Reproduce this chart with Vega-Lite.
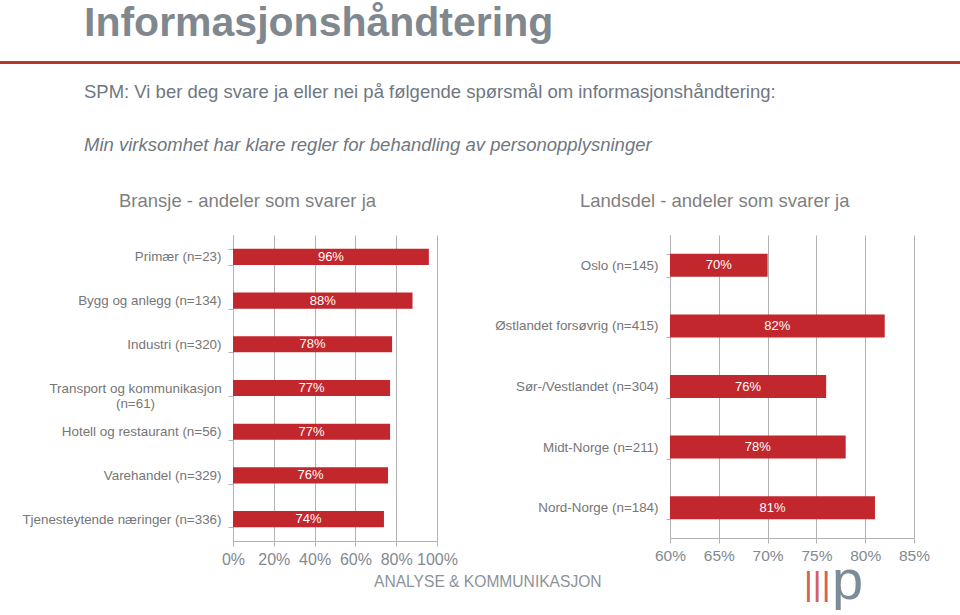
{
  "$schema": "https://vega.github.io/schema/vega-lite/v6.json",
  "background": "white",
  "padding": {"left": 0, "right": 0, "top": 1, "bottom": 0},
  "config": {
    "font": "Liberation Sans",
    "view": {"stroke": null},
    "title": {"fontWeight": "normal"}
  },
  "datasets": {
    "bransje": [
      {"kategori": "Primær (n=23)", "andel": 0.96},
      {"kategori": "Bygg og anlegg (n=134)", "andel": 0.88},
      {"kategori": "Industri (n=320)", "andel": 0.78},
      {"kategori": "Transport og kommunikasjon (n=61)", "andel": 0.77},
      {"kategori": "Hotell og restaurant (n=56)", "andel": 0.77},
      {"kategori": "Varehandel (n=329)", "andel": 0.76},
      {"kategori": "Tjenesteytende næringer (n=336)", "andel": 0.74}
    ],
    "landsdel": [
      {"kategori": "Oslo (n=145)", "andel": 0.70},
      {"kategori": "Østlandet forsøvrig (n=415)", "andel": 0.82},
      {"kategori": "Sør-/Vestlandet (n=304)", "andel": 0.76},
      {"kategori": "Midt-Norge (n=211)", "andel": 0.78},
      {"kategori": "Nord-Norge (n=184)", "andel": 0.81}
    ],
    "tom": [{"t": ""}]
  },
  "spacing": 14,
  "vconcat": [
    {
      "width": 960,
      "height": 1,
      "view": {"stroke": "#b8372d", "strokeWidth": 2, "fill": "#b8372d"},
      "title": {
        "text": "Informasjonshåndtering",
        "anchor": "start",
        "frame": "group",
        "dx": 83,
        "offset": 12,
        "fontSize": 41,
        "fontWeight": "bold",
        "color": "#7f888f"
      },
      "data": {"name": "tom"},
      "mark": {"type": "text", "opacity": 0},
      "encoding": {"text": {"field": "t", "type": "nominal"}}
    },
    {
      "title": {
        "text": "|||",
        "orient": "bottom",
        "anchor": "start",
        "frame": "bounds",
        "dx": 803,
        "offset": -42,
        "fontSize": 34,
        "color": "#d4605a"
      },
      "vconcat": [
        {
          "title": {
            "text": "p",
            "orient": "bottom",
            "anchor": "start",
            "frame": "bounds",
            "dx": 831,
            "offset": -36,
            "fontSize": 56,
            "color": "#7d8c96"
          },
          "vconcat": [
            {
              "title": {
                "text": "ANALYSE & KOMMUNIKASJON",
                "orient": "bottom",
                "anchor": "start",
                "frame": "bounds",
                "dx": 373,
                "offset": 8,
                "fontSize": 15.6,
                "color": "#8d9399"
              },
              "vconcat": [
                {
                  "title": {
                    "text": "SPM: Vi ber deg svare ja eller nei på følgende spørsmål om informasjonshåndtering:",
                    "subtitle": "Min virksomhet har klare regler for behandling av personopplysninger",
                    "anchor": "start",
                    "frame": "bounds",
                    "dx": 83,
                    "offset": 37,
                    "fontSize": 18.5,
                    "color": "#6f7780",
                    "subtitleFontSize": 18.5,
                    "subtitleFontStyle": "italic",
                    "subtitleColor": "#6f7780",
                    "subtitlePadding": 34.5
                  },
                  "spacing": 0,
                  "hconcat": [
                    {
                      "width": 1,
                      "height": 1,
                      "data": {"name": "tom"},
                      "mark": {"type": "text", "opacity": 0},
                      "encoding": {"text": {"field": "t", "type": "nominal"}}
                    },
                    {
                      "spacing": 32,
                      "hconcat": [
                        {
                          "width": 204,
                          "height": 306,
                          "title": {
                            "text": "Bransje - andeler som svarer ja",
                            "anchor": "start",
                            "frame": "group",
                            "dx": -114,
                            "offset": 18,
                            "fontSize": 18.5,
                            "color": "#7f7f7f"
                          },
                          "data": {"name": "bransje"},
                          "encoding": {
                            "y": {
                              "field": "kategori",
                              "type": "nominal",
                              "sort": null,
                              "scale": {"paddingInner": 0.63, "paddingOuter": 0.315},
                              "axis": {
                                "title": null,
                                "tickBand": "extent",
                                "domainColor": "#b3b3b3",
                                "tickColor": "#b3b3b3",
                                "tickSize": 5,
                                "labelFontSize": 13.4,
                                "labelColor": "#767676",
                                "labelAlign": {"condition": {"test": "datum.value == 'Transport og kommunikasjon (n=61)'", "value": "center"}, "value": "right"},
                                "labelPadding": {"condition": {"test": "datum.value == 'Transport og kommunikasjon (n=61)'", "value": 93}, "value": 7},
                                "labelLimit": 300,
                                "minExtent": 231,
                                "labelLineHeight": 15,
                                "labelExpr": "datum.value == 'Transport og kommunikasjon (n=61)' ? ['Transport og kommunikasjon', '(n=61)'] : datum.label"
                              }
                            }
                          },
                          "layer": [
                            {
                              "mark": {"type": "bar", "color": "#c1272d"},
                              "encoding": {
                                "x": {
                                  "field": "andel",
                                  "type": "quantitative",
                                  "scale": {"domain": [0, 1], "nice": false, "zero": true},
                                  "axis": {
                                    "title": null,
                                    "values": [0, 0.2, 0.4, 0.6, 0.8, 1],
                                    "format": ".0%",
                                    "grid": true,
                                    "gridColor": "#b3b3b3",
                                    "domainColor": "#b3b3b3",
                                    "tickColor": "#b3b3b3",
                                    "tickSize": 5,
                                    "labelFontSize": 16,
                                    "labelColor": "#7f8a91",
                                    "labelPadding": 5,
                                    "labelOverlap": false,
                                    "labelFlush": false
                                  }
                                }
                              }
                            },
                            {
                              "mark": {"type": "text", "color": "white", "fontSize": 13},
                              "encoding": {
                                "x": {
                                  "field": "andel",
                                  "type": "quantitative",
                                  "scale": {"domain": [0, 2], "nice": false, "zero": false},
                                  "axis": null
                                },
                                "text": {"field": "andel", "type": "quantitative", "format": ".0%"}
                              }
                            }
                          ],
                          "resolve": {"scale": {"x": "independent"}}
                        },
                        {
                          "width": 244,
                          "height": 303,
                          "title": {
                            "text": "Landsdel - andeler som svarer ja",
                            "anchor": "start",
                            "frame": "group",
                            "dx": -90,
                            "offset": 18,
                            "fontSize": 18.5,
                            "color": "#7f7f7f"
                          },
                          "data": {"name": "landsdel"},
                          "encoding": {
                            "y": {
                              "field": "kategori",
                              "type": "nominal",
                              "sort": null,
                              "scale": {"paddingInner": 0.62, "paddingOuter": 0.31},
                              "axis": {
                                "title": null,
                                "tickBand": "extent",
                                "domainColor": "#b3b3b3",
                                "tickColor": "#b3b3b3",
                                "tickSize": 4,
                                "labelFontSize": 13.4,
                                "labelColor": "#767676",
                                "labelPadding": 8,
                                "labelLimit": 300,
                                "minExtent": 180
                              }
                            }
                          },
                          "layer": [
                            {
                              "mark": {"type": "bar", "color": "#c1272d"},
                              "encoding": {
                                "x": {
                                  "field": "andel",
                                  "type": "quantitative",
                                  "scale": {"domain": [0.6, 0.85], "nice": false, "zero": false},
                                  "axis": {
                                    "title": null,
                                    "values": [0.6, 0.65, 0.7, 0.75, 0.8, 0.85],
                                    "format": ".0%",
                                    "grid": true,
                                    "gridColor": "#b3b3b3",
                                    "domainColor": "#b3b3b3",
                                    "tickColor": "#b3b3b3",
                                    "tickSize": 5,
                                    "labelFontSize": 15.5,
                                    "labelColor": "#7f8a91",
                                    "labelPadding": 5,
                                    "labelOverlap": false,
                                    "labelFlush": false
                                  }
                                },
                                "x2": {"datum": 0.6}
                              }
                            },
                            {
                              "mark": {"type": "text", "color": "white", "fontSize": 13},
                              "encoding": {
                                "x": {
                                  "field": "andel",
                                  "type": "quantitative",
                                  "scale": {"domain": [0.6, 1.1], "nice": false, "zero": false},
                                  "axis": null
                                },
                                "text": {"field": "andel", "type": "quantitative", "format": ".0%"}
                              }
                            }
                          ],
                          "resolve": {"scale": {"x": "independent"}}
                        }
                      ]
                    }
                  ]
                }
              ]
            }
          ]
        }
      ]
    }
  ]
}
